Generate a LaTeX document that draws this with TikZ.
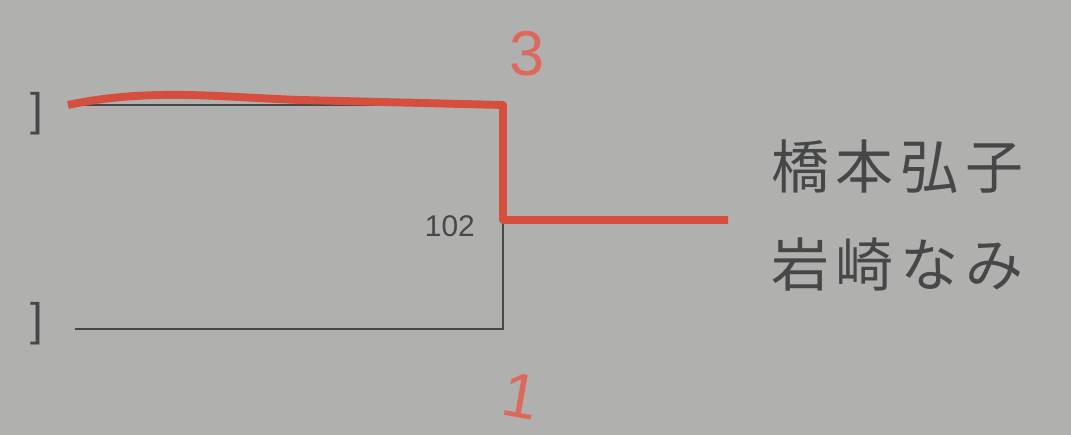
\documentclass[tikz,border=0pt]{standalone}
\usepackage{fontspec}
\setmainfont{Liberation Sans}
\newfontfamily\jpfont[LetterSpace=12]{Noto Sans CJK JP}
\definecolor{papier}{RGB}{176,177,174}
\definecolor{rotstift}{RGB}{214,78,62}
\definecolor{bleistift}{RGB}{70,72,72}
\begin{document}
\begin{tikzpicture}[
      klammer/.style={font=\fontsize{26}{28}\selectfont, text=bleistift},
      linie/.style={draw=bleistift, line width=1.1pt},
      sieger/.style={draw=rotstift, line width=4.5pt, line join=round},
      ergebnis/.style={font=\fontsize{36}{38}\selectfont, text=rotstift!85!white},
      spielername/.style={font=\jpfont\fontsize{33}{36}\selectfont, text=bleistift, anchor=center}
    ]
      \fill[papier] (0,0) rectangle (21.42,8.7);
      \useasboundingbox (0,0) rectangle (21.42,8.7);
      \node[klammer] (oben) at (0.74,6.42) {]};
      \node[klammer] (unten) at (0.74,2.22) {]};
      \coordinate (obenl) at (1.36,6.6);
      \coordinate (obenr) at (10.06,6.6);
      \coordinate (untenl) at (1.5,2.12);
      \coordinate (untenr) at (10.06,2.12);
      \coordinate (mitte) at (10.06,4.3);
      \coordinate (aus) at (14.56,4.3);
      \draw[linie] (obenl) -- (obenr) -- (untenr) -- (untenl);
      \draw[sieger] (obenl) .. controls (3.0,6.95) and (4.5,6.75) .. (6.0,6.7) -- (obenr) -- (mitte) -- (aus);
      \node[font=\fontsize{17}{19}\selectfont, text=bleistift, anchor=east] (nummer) at (9.62,4.18) {102};
      \node[ergebnis] (drei) at (10.54,7.62) {3};
      \node[ergebnis, rotate=-10] (eins) at (10.42,0.78) {1};
      \node[spielername] (name1) at (17.95,5.36) {橋本弘子};
      \node[spielername] (name2) at (17.95,3.4) {岩崎なみ};
    \end{tikzpicture}
\end{document}
